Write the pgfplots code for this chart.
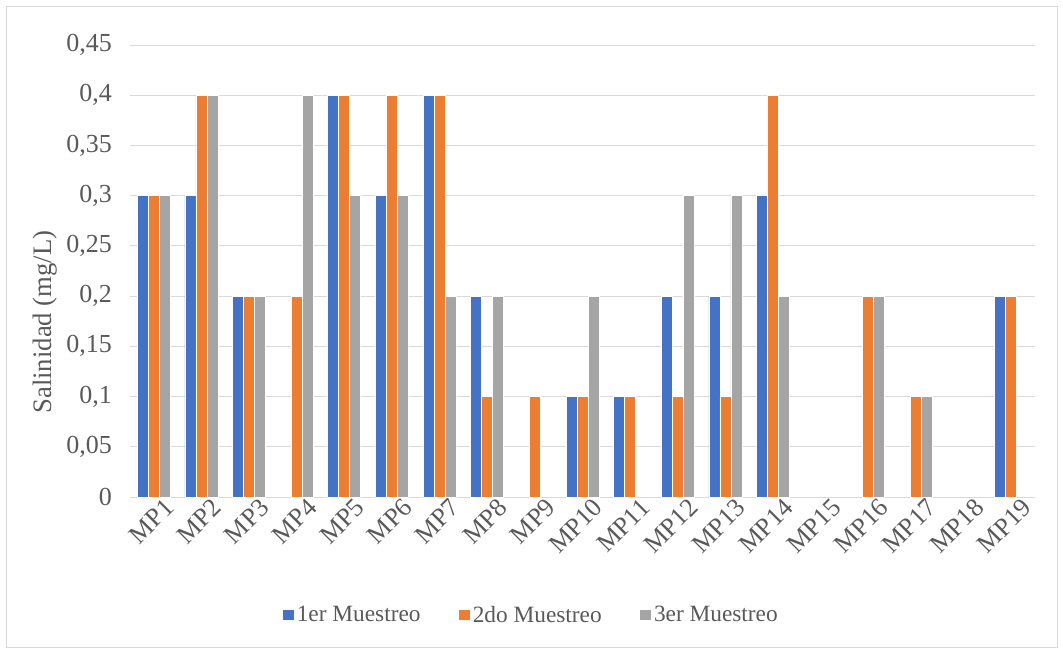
\documentclass[border=0pt]{standalone}
\usepackage{pgfplots}
\pgfplotsset{compat=1.18}
\usepackage{fontspec}
\setmainfont{Liberation Serif}

\definecolor{serA}{HTML}{4472C4}
\definecolor{serB}{HTML}{ED7D31}
\definecolor{serC}{HTML}{A5A5A5}
\definecolor{txt}{HTML}{595959}
\definecolor{gridc}{HTML}{D9D9D9}

\begin{document}
\begin{tikzpicture}
\begin{axis}[
  at={(0,0)}, anchor=south west,
  scale only axis,
  width=678.75pt, height=339pt,
  font=\fontsize{17.5pt}{20pt}\selectfont,
  ybar=0pt, bar width=8.25pt,
  xmin=-0.5, xmax=18.5,
  ymin=0, ymax=0.45,
  ytick={0,0.05,...,0.451},
  xtick={0,...,18},
  xticklabels={MP1,MP2,MP3,MP4,MP5,MP6,MP7,MP8,MP9,MP10,MP11,MP12,MP13,MP14,MP15,MP16,MP17,MP18,MP19},
  /pgf/number format/assume math mode=true,
  /pgf/number format/use comma,
  /pgf/number format/fixed,
  /pgf/number format/precision=2,
  scaled y ticks=false,
  major tick length=0pt,
  ymajorgrids, grid style={gridc, line width=0.75pt},
  axis x line*=bottom, axis y line*=left,
  x axis line style={gridc, line width=0.75pt, -},
  y axis line style={draw=none},
  tick label style={txt, font=\fontsize{19.5pt}{22pt}\selectfont},
  yticklabel style={xshift=-10pt},
  xticklabel style={rotate=45, anchor=north east, inner sep=1pt, xshift=6pt, yshift=-4pt},
  ylabel={Salinidad (mg/L)},
  ylabel style={txt, font=\fontsize{20pt}{22pt}\selectfont, at={(axis description cs:-0.094,0.387)}, anchor=center},
  legend style={draw=none, fill=none, text=txt,
    at={(axis description cs:0.444,-0.261)}, anchor=center,
    legend columns=3, /tikz/every even column/.append style={column sep=27pt}},
  legend cell align=left,
  legend image code/.code={\fill[#1,draw=none] (0pt,-4.1pt) rectangle (8.2pt,4.1pt);},
  every axis plot/.append style={draw=white, line width=0.6pt},
]
% 1er Muestreo
\addplot[fill=serA] coordinates {(0,0.3) (1,0.3) (2,0.2) (4,0.4) (5,0.3) (6,0.4) (7,0.2) (9,0.1) (10,0.1) (11,0.2) (12,0.2) (13,0.3) (18,0.2)};
% 2do Muestreo
\addplot[fill=serB] coordinates {(0,0.3) (1,0.4) (2,0.2) (3,0.2) (4,0.4) (5,0.4) (6,0.4) (7,0.1) (8,0.1) (9,0.1) (10,0.1) (11,0.1) (12,0.1) (13,0.4) (15,0.2) (16,0.1) (18,0.2)};
% 3er Muestreo
\addplot[fill=serC] coordinates {(0,0.3) (1,0.4) (2,0.2) (3,0.4) (4,0.3) (5,0.3) (6,0.2) (7,0.2) (9,0.2) (11,0.3) (12,0.3) (13,0.2) (15,0.2) (16,0.1)};
\legend{1er Muestreo, 2do Muestreo, 3er Muestreo}
\end{axis}
% chart frame
\draw[gridc, line width=0.75pt] (-92.25pt,-112.5pt) rectangle (695.25pt,367.5pt);
\path[use as bounding box] (-97.5pt,-117pt) rectangle (699.75pt,372.75pt);
\end{tikzpicture}
\end{document}
